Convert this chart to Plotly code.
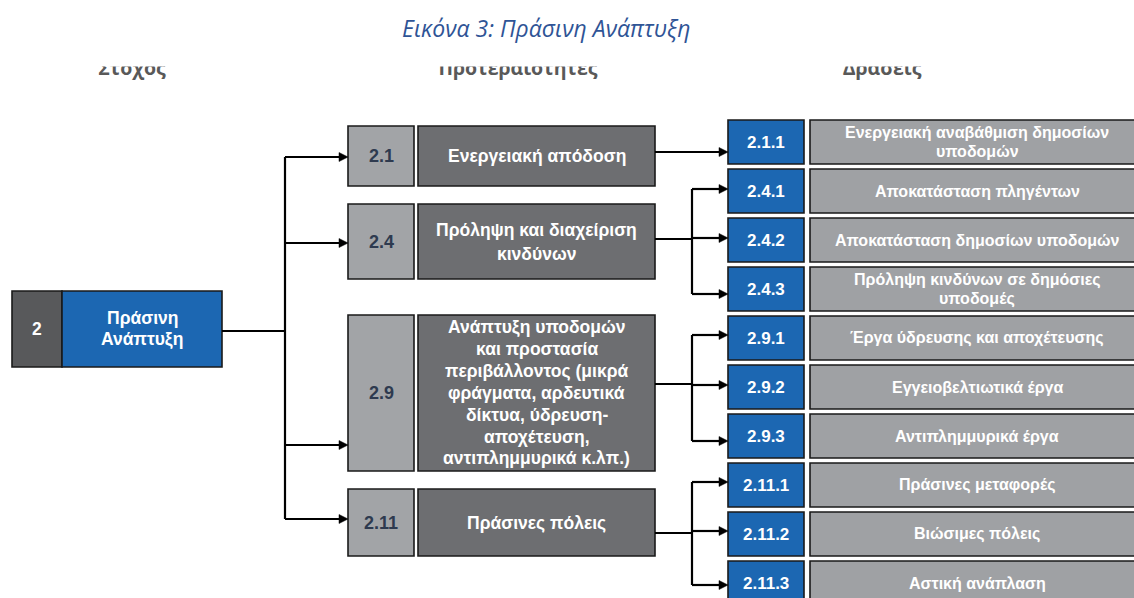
import plotly.graph_objects as go

# ---------------- data ----------------
title_text = "Εικόνα 3: Πράσινη Ανάπτυξη"
headers = ["Στοχος", "Προτεραιοτητες", "Δρασεις"]

goal_code = "2"
goal_title = "Πράσινη<br>Ανάπτυξη"

priority_codes = ["2.1", "2.4", "2.9", "2.11"]
priority_titles = [
    "Ενεργειακή απόδοση",
    "Πρόληψη και διαχείριση<br>κινδύνων",
    "Ανάπτυξη υποδομών<br>και προστασία<br>περιβάλλοντος (μικρά<br>φράγματα, αρδευτικά<br>δίκτυα, ύδρευση-<br>αποχέτευση,<br>αντιπλημμυρικά κ.λπ.)",
    "Πράσινες πόλεις",
]

action_codes = ["2.1.1", "2.4.1", "2.4.2", "2.4.3", "2.9.1", "2.9.2", "2.9.3",
                "2.11.1", "2.11.2", "2.11.3"]
action_titles = [
    "Ενεργειακή αναβάθμιση δημοσίων<br>υποδομών",
    "Αποκατάσταση πληγέντων",
    "Αποκατάσταση δημοσίων υποδομών",
    "Πρόληψη κινδύνων σε δημόσιες<br>υποδομές",
    "Έργα ύδρευσης και αποχέτευσης",
    "Εγγειοβελτιωτικά έργα",
    "Αντιπλημμυρικά έργα",
    "Πράσινες μεταφορές",
    "Βιώσιμες πόλεις",
    "Αστική ανάπλαση",
]
action_parent = ["2.1", "2.4", "2.4", "2.4", "2.9", "2.9", "2.9", "2.11", "2.11", "2.11"]

# ---------------- layout geometry (pixels) ----------------
W, H = 1134, 598
FONT = "Liberation Sans, Arial, sans-serif"
LW = 1.6
EDGE = "#1a1a1a"

C_GOAL_NUM = "#58595B"
C_BLUE = "#1C67B2"
C_PRI_CODE = "#A2A4A7"
C_PRI_TITLE = "#6D6E71"
C_ACT_TITLE = "#9FA1A4"
C_PRI_TXT = "#2E3A4F"

goal_box = dict(x0=12, x1=222, split=62, y0=291, y1=367)
pri_x = dict(c0=348, c1=414, t0=418, t1=655)
pri_y = [(126, 186), (204, 279), (315, 471), (489, 556)]
pri_arrow_y = [157, 243, 445, 519]
pri_out_y = [152, 239, 384, 533]
pri_line_gap = [22, 24, 21.8, 22]
trunk_x = 285
goal_link_y = 331

act_x = dict(c0=728, c1=804, t0=810, t1=1144)
act_top0, act_pitch, act_h = 120, 49, 44
act_arrow_y = [152, 189, 238, 294, 335, 385, 441, 482, 531, 585]
branch_x = 692

shapes = []
annotations = []


def rect(x0, y0, x1, y1, fill):
    shapes.append(dict(type="rect", xref="x", yref="y", x0=x0, x1=x1, y0=y0, y1=y1,
                       fillcolor=fill, line=dict(color=EDGE, width=LW), layer="below"))


def line(x0, y0, x1, y1):
    shapes.append(dict(type="line", xref="x", yref="y", x0=x0, x1=x1, y0=y0, y1=y1,
                       line=dict(color="black", width=2.2), layer="below"))


def arrow(x0, x1, y):
    L, hw = 9, 4.5
    line(x0, y, x1 - L + 1, y)
    shapes.append(dict(type="path", xref="x", yref="y",
                       path=f"M {x1-L},{y-hw} L {x1},{y} L {x1-L},{y+hw} Z",
                       fillcolor="black", line=dict(color="black", width=0.5), layer="below"))


def text(x, y, s, size, color, gap=None, weight=700):
    parts = s.split("<br>")
    gap = gap if gap is not None else size * 1.25
    n = len(parts)
    for k, p in enumerate(parts):
        yy = y + (k - (n - 1) / 2) * gap
        annotations.append(dict(x=x, y=yy, xref="x", yref="y", text=p, showarrow=False,
                                font=dict(family=FONT, size=size, color=color, weight=weight),
                                align="center", xanchor="center", yanchor="middle"))


# goal
g = goal_box
rect(g["x0"], g["y0"], g["split"], g["y1"], C_GOAL_NUM)
rect(g["split"], g["y0"], g["x1"], g["y1"], C_BLUE)
gy = (g["y0"] + g["y1"]) / 2
text((g["x0"] + g["split"]) / 2, gy, goal_code, 17.5, "white")
text((g["split"] + g["x1"]) / 2, gy, goal_title, 17.5, "white", gap=21.5)

# trunk
line(g["x1"], goal_link_y, trunk_x, goal_link_y)
line(trunk_x, min(pri_arrow_y), trunk_x, max(pri_arrow_y))

# priorities
for i, code in enumerate(priority_codes):
    y0, y1 = pri_y[i]
    rect(pri_x["c0"], y0, pri_x["c1"], y1, C_PRI_CODE)
    rect(pri_x["t0"], y0, pri_x["t1"], y1, C_PRI_TITLE)
    cy = (y0 + y1) / 2
    text((pri_x["c0"] + pri_x["c1"]) / 2, cy, code, 18, C_PRI_TXT)
    text((pri_x["t0"] + pri_x["t1"]) / 2, cy, priority_titles[i], 17.5, "white",
         gap=pri_line_gap[i])
    arrow(trunk_x, pri_x["c0"], pri_arrow_y[i])

# actions
for j, code in enumerate(action_codes):
    y0 = act_top0 + j * act_pitch
    y1 = y0 + act_h
    rect(act_x["c0"], y0, act_x["c1"], y1, C_BLUE)
    rect(act_x["t0"], y0, act_x["t1"], y1, C_ACT_TITLE)
    cy = (y0 + y1) / 2
    text((act_x["c0"] + act_x["c1"]) / 2, cy, code, 17, "white")
    text((act_x["t0"] + act_x["t1"]) / 2, cy, action_titles[j], 16, "white", gap=19)

# branches from priorities to actions
for i, code in enumerate(priority_codes):
    kids = [j for j, p in enumerate(action_parent) if p == code]
    oy = pri_out_y[i]
    if len(kids) == 1:
        arrow(pri_x["t1"], act_x["c0"], act_arrow_y[kids[0]])
    else:
        line(pri_x["t1"], oy, branch_x, oy)
        ys = [act_arrow_y[j] for j in kids]
        line(branch_x, min(ys), branch_x, max(ys))
        for yy in ys:
            arrow(branch_x, act_x["c0"], yy)

fig = go.Figure()

# column headers (top slightly cropped as in the source)
header_x = [132, 518, 882]
fig.add_trace(go.Scatter(x=header_x, y=[70.5] * 3, mode="text", text=headers,
                         textposition="middle center", hoverinfo="skip", showlegend=False,
                         textfont=dict(family="Open Sans, sans-serif", size=19.5,
                                       color="#595959", weight=700)))
shapes.append(dict(type="rect", xref="x", yref="y", x0=0, x1=W, y0=45, y1=66.5,
                   fillcolor="white", line=dict(width=0), layer="above"))

annotations.append(dict(x=546, y=28, xref="x", yref="y", text=title_text, showarrow=False,
                        font=dict(family="Open Sans, sans-serif", size=23, color="#2F5496",
                                  style="italic"),
                        xanchor="center", yanchor="middle"))

fig.update_layout(
    width=W, height=H, margin=dict(l=0, r=0, t=0, b=0),
    paper_bgcolor="white", plot_bgcolor="white",
    xaxis=dict(range=[0, W], visible=False, fixedrange=True),
    yaxis=dict(range=[H, 0], visible=False, fixedrange=True),
    shapes=shapes, annotations=annotations, showlegend=False,
)
fig.write_html("out.html", config={"displayModeBar": False},
               post_script="document.body.style.margin='0';document.body.style.overflow='hidden';")
